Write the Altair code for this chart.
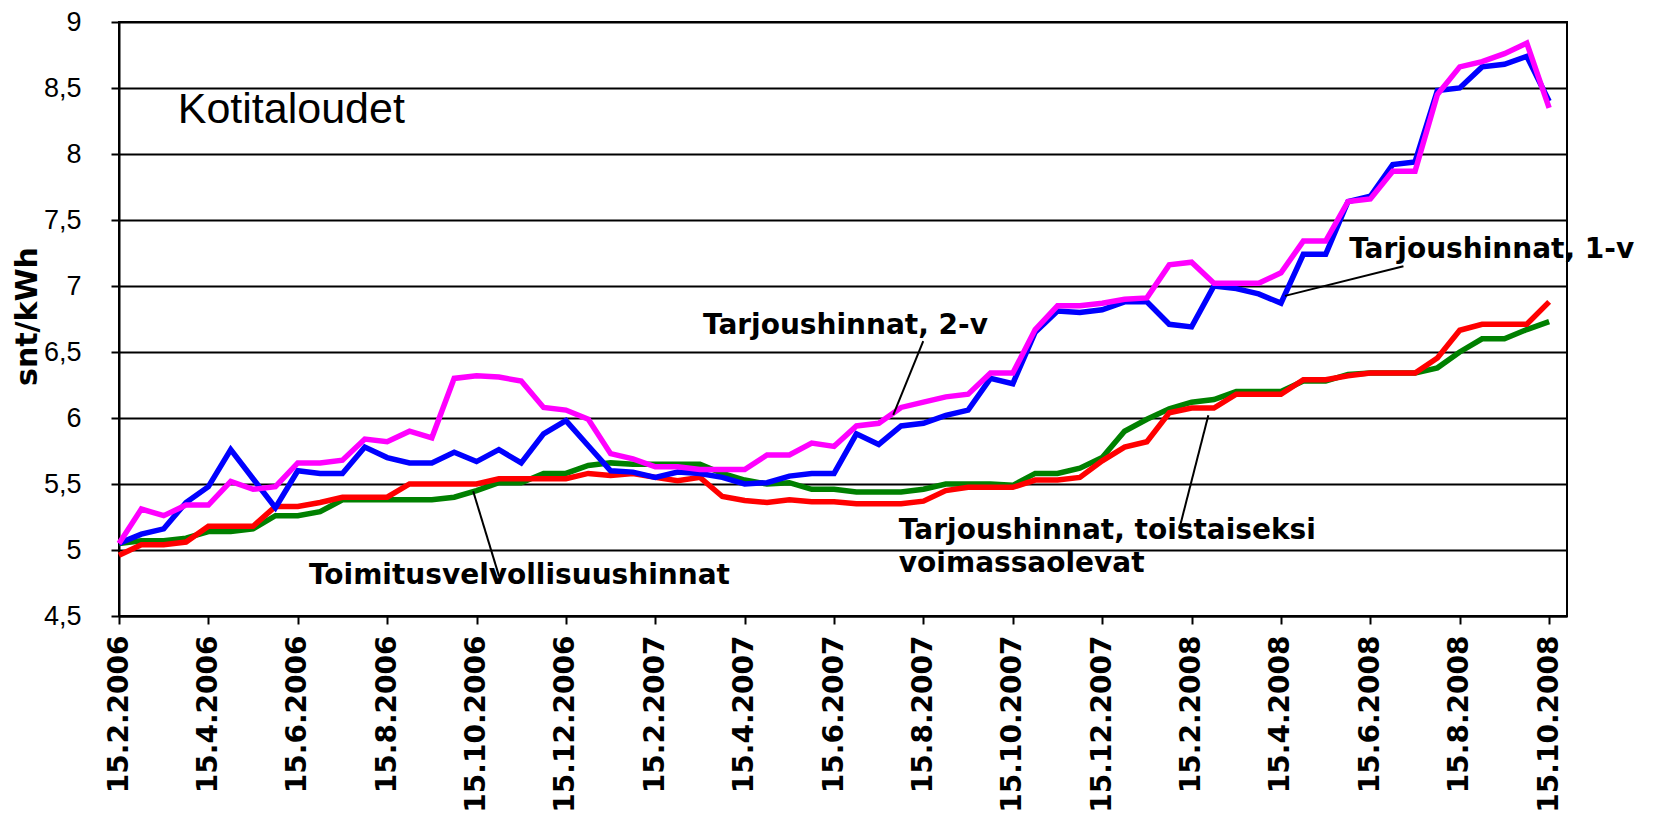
import altair as alt
import pandas as pd

# ---- data (half-monthly points, 15.2.2006 .. 15.10.2008) ----
x_labels = ["15.2.2006", "15.4.2006", "15.6.2006", "15.8.2006", "15.10.2006",
            "15.12.2006", "15.2.2007", "15.4.2007", "15.6.2007", "15.8.2007",
            "15.10.2007", "15.12.2007", "15.2.2008", "15.4.2008", "15.6.2008",
            "15.8.2008", "15.10.2008"]

tarjous_1v = [5.05, 5.12, 5.16, 5.36, 5.48, 5.76, 5.54, 5.32, 5.60, 5.58,
              5.58, 5.78, 5.70, 5.66, 5.66, 5.74, 5.67, 5.76, 5.66, 5.88,
              5.98, 5.79, 5.60, 5.59, 5.55, 5.59, 5.58, 5.55, 5.50, 5.51,
              5.56, 5.58, 5.58, 5.88, 5.80, 5.94, 5.96, 6.02, 6.06, 6.30,
              6.26, 6.65, 6.81, 6.80, 6.82, 6.88, 6.88, 6.71, 6.69, 7.00,
              6.98, 6.94, 6.87, 7.24, 7.24, 7.64, 7.68, 7.92, 7.94, 8.48,
              8.50, 8.66, 8.68, 8.74, 8.40]

tarjous_2v = [5.05, 5.31, 5.26, 5.34, 5.34, 5.52, 5.46, 5.48, 5.66, 5.66,
              5.68, 5.84, 5.82, 5.90, 5.85, 6.30, 6.32, 6.31, 6.28, 6.08,
              6.06, 5.99, 5.73, 5.69, 5.63, 5.63, 5.61, 5.61, 5.61, 5.72,
              5.72, 5.81, 5.785, 5.94, 5.96, 6.08, 6.12, 6.16, 6.18, 6.34,
              6.34, 6.67, 6.85, 6.85, 6.87, 6.90, 6.91, 7.16, 7.18, 7.02,
              7.02, 7.02, 7.10, 7.34, 7.34, 7.64, 7.66, 7.87, 7.87, 8.45,
              8.66, 8.70, 8.76, 8.84, 8.35]

toimitus = [5.05, 5.07, 5.07, 5.09, 5.14, 5.14, 5.16, 5.26, 5.26, 5.29,
            5.38, 5.38, 5.38, 5.38, 5.38, 5.40, 5.45, 5.51, 5.51, 5.58,
            5.58, 5.64, 5.66, 5.65, 5.65, 5.65, 5.65, 5.58, 5.53, 5.50,
            5.51, 5.46, 5.46, 5.44, 5.44, 5.44, 5.46, 5.50, 5.50, 5.50,
            5.49, 5.58, 5.58, 5.62, 5.70, 5.90, 5.99, 6.07, 6.12, 6.14,
            6.20, 6.20, 6.20, 6.28, 6.28, 6.33, 6.34, 6.34, 6.34, 6.38,
            6.50, 6.60, 6.60, 6.67, 6.73]

toistaiseksi = [4.96, 5.04, 5.04, 5.06, 5.18, 5.18, 5.18, 5.33, 5.33, 5.36,
                5.40, 5.40, 5.40, 5.50, 5.50, 5.50, 5.50, 5.54, 5.54, 5.54,
                5.54, 5.58, 5.565, 5.58, 5.55, 5.525, 5.55, 5.405, 5.375, 5.36,
                5.38, 5.365, 5.365, 5.35, 5.35, 5.35, 5.37, 5.45, 5.475, 5.475,
                5.475, 5.53, 5.53, 5.55, 5.675, 5.78, 5.82, 6.04, 6.075, 6.075,
                6.18, 6.18, 6.18, 6.29, 6.29, 6.32, 6.34, 6.34, 6.34, 6.455,
                6.665, 6.71, 6.71, 6.71, 6.88]

y_ticks = [4.5, 5, 5.5, 6, 6.5, 7, 7.5, 8, 8.5, 9]

# annotation texts (placed in data units)
label_text = ["Tarjoushinnat, 2-v", "Tarjoushinnat, 1-v", "Tarjoushinnat, toistaiseksi",
              "voimassaolevat", "Toimitusvelvollisuushinnat"]
label_x = [26.13, 55.05, 34.9, 34.9, 8.5]
label_y = [6.637, 7.211, 5.08, 4.835, 4.745]

# leader lines (data units)
lead_x = [15.85, 35.99, 57.48, 48.75]
lead_y = [5.445, 6.582, 7.149, 6.02]
lead_x2 = [17.01, 34.65, 52.18, 47.48]
lead_y2 = [4.80, 6.023, 6.925, 5.18]

n = len(tarjous_1v)
idx = list(range(n))

x_scale = alt.Scale(domain=[0, 64.8], nice=False, zero=False)
y_scale = alt.Scale(domain=[4.5, 9], nice=False, zero=False)

label_array = "[" + ",".join("'" + s + "'" for s in x_labels) + "]"

x_axis = alt.Axis(values=list(range(0, 65, 4)), labelExpr=label_array + "[round(datum.value/4)]",
                  grid=False, labelAngle=270, labelFont="DejaVu Sans", labelFontWeight="bold",
                  labelFontSize=28, labelColor="black", labelPadding=11, tickSize=8,
                  tickColor="black", tickWidth=2, domainColor="black", domainWidth=2,
                  labelOverlap=False, labelFlush=False, labelLimit=500, title=None)
y_axis = alt.Axis(values=y_ticks, labelExpr="replace(format(datum.value, '~g'), '.', ',')",
                  grid=True, gridColor="black", gridWidth=2, gridOpacity=1,
                  labelFont="Liberation Sans Narrow, Liberation Sans, Arial, sans-serif",
                  labelFontSize=27, labelColor="black", labelPadding=30, tickSize=8,
                  tickColor="black", tickWidth=2, domainColor="black", domainWidth=2,
                  labelFlush=False, labelOverlap=False, labelLimit=300,
                  title="snt/kWh", titleFont="DejaVu Sans", titleFontWeight="bold",
                  titleFontSize=30, titleColor="black", titleAngle=270,
                  titleX=-92, titleY=294, titleAlign="center", titleBaseline="middle")


def X(field):
    return alt.X(field, scale=x_scale, axis=x_axis)


def Y(field):
    return alt.Y(field, scale=y_scale, axis=y_axis)


def series_line(values, color):
    df = pd.DataFrame({"i": idx, "v": values})
    return alt.Chart(df).mark_line(color=color, strokeWidth=5.5, strokeJoin="miter",
                                   strokeCap="butt").encode(x=X("i:Q"), y=Y("v:Q"))


green_line = series_line(toimitus, "#008000")
red_line = series_line(toistaiseksi, "#FF0000")
blue_line = series_line(tarjous_1v, "#0000FF")
magenta_line = series_line(tarjous_2v, "#FF00FF")

lead_df = pd.DataFrame({"i": lead_x, "v": lead_y, "i2": lead_x2, "v2": lead_y2})
leaders = alt.Chart(lead_df).mark_rule(color="black", strokeWidth=2).encode(
    x=X("i:Q"), y=Y("v:Q"), x2="i2:Q", y2="v2:Q")

text_df = pd.DataFrame({"t": label_text, "i": label_x, "v": label_y})
texts = alt.Chart(text_df).mark_text(align="left", baseline="alphabetic", font="DejaVu Sans",
                                     fontWeight="bold", fontSize=28, color="black").encode(
    x=X("i:Q"), y=Y("v:Q"), text="t:N")

title_df = pd.DataFrame({"t": ["Kotitaloudet"], "i": [2.63], "v": [8.233]})
title_txt = alt.Chart(title_df).mark_text(align="left", baseline="alphabetic",
                                          font="Liberation Sans, Arial, sans-serif",
                                          fontSize=43, color="black").encode(
    x=X("i:Q"), y=Y("v:Q"), text="t:N")

chart = alt.layer(green_line, red_line, blue_line, magenta_line, leaders, texts, title_txt).properties(
    width=1448, height=594,
    autosize=alt.AutoSizeParams(type="none"),
    padding={"left": 111, "top": 14, "right": 79, "bottom": 203},
    background="white",
).configure_view(stroke="black", strokeWidth=2)

chart.save("out.html", embed_options={"renderer": "svg", "actions": False})
